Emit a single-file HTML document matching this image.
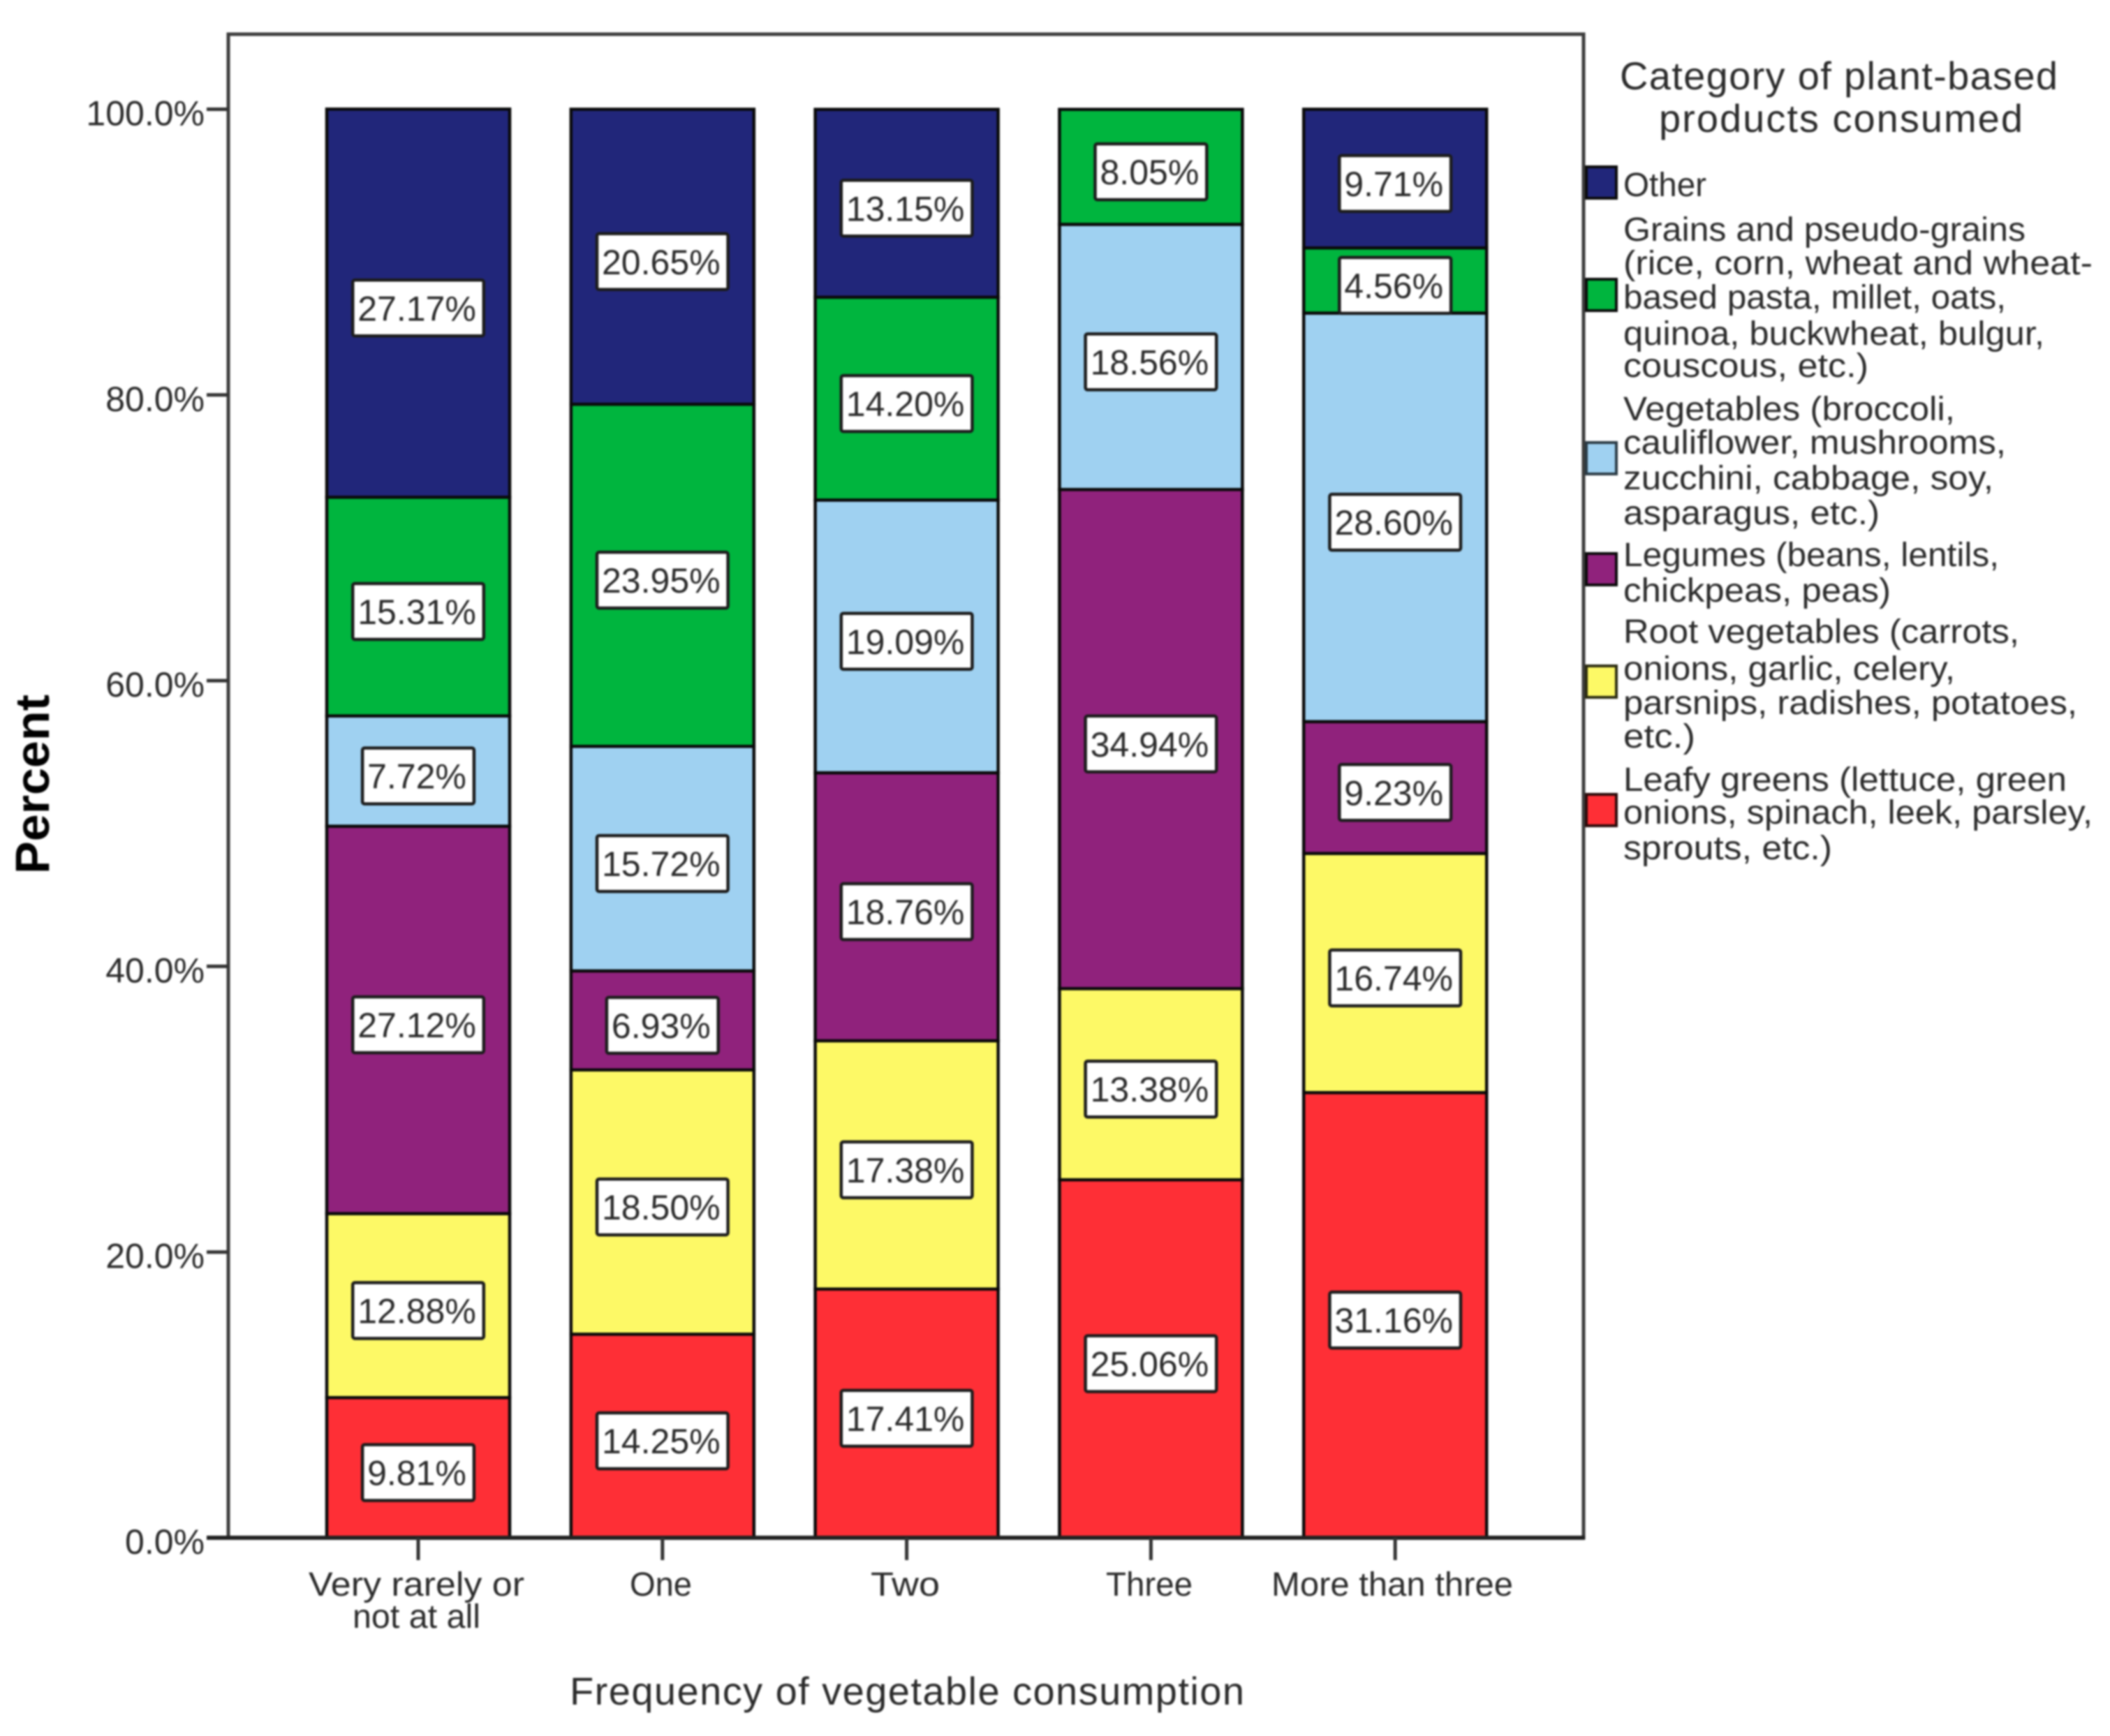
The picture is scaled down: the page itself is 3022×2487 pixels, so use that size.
<!DOCTYPE html>
<html lang="en">
<head>
<meta charset="utf-8">
<title>Category of plant-based products consumed by frequency of vegetable consumption</title>
<style>
html,body{margin:0;padding:0;background:#fff;}
#chart{display:block;width:3022px;height:2487px;filter:blur(1.3px);}
text{font-family:"Liberation Sans",Arial,sans-serif;fill:#2b2b2b;}
.leg{font-size:48px;}
.cat{font-size:48px;}
</style>
</head>
<body>
<svg id="chart" xmlns="http://www.w3.org/2000/svg" width="3022" height="2487" viewBox="0 0 3022 2487">
  <rect x="0" y="0" width="3022" height="2487" fill="#ffffff"/>
  <rect x="327" y="49" width="1941" height="2154" fill="#ffffff" stroke="#3d3d3d" stroke-width="5"/>
  <g id="y-axis"></g>
  <g id="bars"></g>
  <g id="x-axis"></g>

  <g>
    <text class="cat" x="442" y="2286" textLength="309" lengthAdjust="spacingAndGlyphs">Very rarely or</text>
    <text class="cat" x="505" y="2332" textLength="183" lengthAdjust="spacingAndGlyphs">not at all</text>
    <text class="cat" x="902" y="2286" textLength="89" lengthAdjust="spacingAndGlyphs">One</text>
    <text class="cat" x="1247" y="2286" textLength="99" lengthAdjust="spacingAndGlyphs">Two</text>
    <text class="cat" x="1584" y="2286" textLength="124" lengthAdjust="spacingAndGlyphs">Three</text>
    <text class="cat" x="1821" y="2286" textLength="346" lengthAdjust="spacingAndGlyphs">More than three</text>
  </g>

  <text transform="translate(70,1252) rotate(-90)" font-size="69" font-weight="700" style="fill:#000" textLength="257" lengthAdjust="spacingAndGlyphs">Percent</text>
  <text x="816" y="2442" font-size="56" textLength="966" lengthAdjust="spacing">Frequency of vegetable consumption</text>

  <g>
    <text x="2320" y="128" font-size="56" textLength="627" lengthAdjust="spacing">Category of plant-based</text>
    <text x="2376" y="189" font-size="56" textLength="521" lengthAdjust="spacing">products consumed</text>

    <rect x="2272" y="239" width="43" height="45" fill="#21267a" stroke="#0a0a0a" stroke-width="4"/>
    <text class="leg" x="2325" y="281" textLength="119" lengthAdjust="spacingAndGlyphs">Other</text>

    <rect x="2272" y="400" width="43" height="45" fill="#00b53e" stroke="#0a0a0a" stroke-width="4"/>
    <g>
      <text class="leg" x="2325" y="345" textLength="576" lengthAdjust="spacingAndGlyphs">Grains and pseudo-grains</text>
      <text class="leg" x="2325" y="393" textLength="672" lengthAdjust="spacingAndGlyphs">(rice, corn, wheat and wheat-</text>
      <text class="leg" x="2325" y="442" textLength="548" lengthAdjust="spacingAndGlyphs">based pasta, millet, oats,</text>
      <text class="leg" x="2325" y="494" textLength="603" lengthAdjust="spacingAndGlyphs">quinoa, buckwheat, bulgur,</text>
      <text class="leg" x="2325" y="540" textLength="351" lengthAdjust="spacingAndGlyphs">couscous, etc.)</text>
    </g>

    <rect x="2272" y="634" width="43" height="45" fill="#9fd1f1" stroke="#2a3a44" stroke-width="4"/>
    <g>
      <text class="leg" x="2325" y="602" textLength="475" lengthAdjust="spacingAndGlyphs">Vegetables (broccoli,</text>
      <text class="leg" x="2325" y="650" textLength="548" lengthAdjust="spacingAndGlyphs">cauliflower, mushrooms,</text>
      <text class="leg" x="2325" y="701" textLength="530" lengthAdjust="spacingAndGlyphs">zucchini, cabbage, soy,</text>
      <text class="leg" x="2325" y="751" textLength="367" lengthAdjust="spacingAndGlyphs">asparagus, etc.)</text>
    </g>

    <rect x="2272" y="793" width="43" height="45" fill="#90227c" stroke="#0a0a0a" stroke-width="4"/>
    <g>
      <text class="leg" x="2325" y="811" textLength="538" lengthAdjust="spacingAndGlyphs">Legumes (beans, lentils,</text>
      <text class="leg" x="2325" y="862" textLength="383" lengthAdjust="spacingAndGlyphs">chickpeas, peas)</text>
    </g>

    <rect x="2272" y="954" width="43" height="45" fill="#fdf966" stroke="#2a2a10" stroke-width="4"/>
    <g>
      <text class="leg" x="2325" y="921" textLength="567" lengthAdjust="spacingAndGlyphs">Root vegetables (carrots,</text>
      <text class="leg" x="2325" y="974" textLength="475" lengthAdjust="spacingAndGlyphs">onions, garlic, celery,</text>
      <text class="leg" x="2325" y="1023" textLength="650" lengthAdjust="spacingAndGlyphs">parsnips, radishes, potatoes,</text>
      <text class="leg" x="2325" y="1071" textLength="103" lengthAdjust="spacingAndGlyphs">etc.)</text>
    </g>

    <rect x="2272" y="1138" width="43" height="45" fill="#fe2f36" stroke="#2a0a0a" stroke-width="4"/>
    <g>
      <text class="leg" x="2325" y="1133" textLength="635" lengthAdjust="spacingAndGlyphs">Leafy greens (lettuce, green</text>
      <text class="leg" x="2325" y="1180" textLength="672" lengthAdjust="spacingAndGlyphs">onions, spinach, leek, parsley,</text>
      <text class="leg" x="2325" y="1231" textLength="299" lengthAdjust="spacingAndGlyphs">sprouts, etc.)</text>
    </g>
  </g>
</svg>
<script>
const categories = ["Very rarely or not at all", "One", "Two", "Three", "More than three"];
const yTicks = [0, 20, 40, 60, 80, 100];
const leafyGreens = [9.81, 14.25, 17.41, 25.06, 31.16];
const rootVegetables = [12.88, 18.50, 17.38, 13.38, 16.74];
const legumes = [27.12, 6.93, 18.76, 34.94, 9.23];
const vegetables = [7.72, 15.72, 19.09, 18.56, 28.60];
const grains = [15.31, 23.95, 14.20, 8.05, 4.56];
const other = [27.17, 20.65, 13.15, 0, 9.71];

const NS = "http://www.w3.org/2000/svg";
const yScale = v => 2203 - v * 20.465;
const xCenter = i => 599 + i * 349.8;
const BAR_W = 262;

function mk(parent, tag, attrs, text) {
  const el = document.createElementNS(NS, tag);
  for (const k in attrs) el.setAttribute(k, attrs[k]);
  if (text !== undefined) el.textContent = text;
  parent.appendChild(el);
  return el;
}

const yAxis = document.getElementById("y-axis");
yTicks.forEach(function (t) {
  const line = mk(yAxis, "line", { x1: 296, x2: 327, y1: yScale(t), y2: yScale(t), stroke: "#333", "stroke-width": 5 });
  
  
  const lab = mk(yAxis, "text", { x: 293, y: yScale(t) + 23, "font-size": 50, "text-anchor": "end" }, t.toFixed(1) + "%");
  
  
});

const seriesList = [
  { key: "leafy-greens", values: leafyGreens, fill: "#fe2f36" },
  { key: "root-vegetables", values: rootVegetables, fill: "#fdf966" },
  { key: "legumes", values: legumes, fill: "#90227c" },
  { key: "vegetables", values: vegetables, fill: "#9fd1f1" },
  { key: "grains", values: grains, fill: "#00b53e" },
  { key: "other", values: other, fill: "#21267a" }
];

const barsG = document.getElementById("bars");
const labelsLater = [];
categories.forEach(function (cat, i) {
  let cum = 0;
  seriesList.forEach(function (s) {
    const v = s.values[i];
    if (v <= 0) return;
    const top = yScale(cum + v), bottom = yScale(cum);
    const r = mk(barsG, "rect", {
      x: xCenter(i) - BAR_W / 2, y: top, width: BAR_W, height: bottom - top,
      fill: s.fill, stroke: "#0a0a0a", "stroke-width": 4.5
    });
    
    
    labelsLater.push({ cx: xCenter(i), cy: (top + bottom) / 2 + 7, text: v.toFixed(2) + "%" });
    cum += v;
  });
});

labelsLater.forEach(function (d) {
  const box = mk(barsG, "rect", {
    y: d.cy - 40, height: 80, rx: 3, fill: "#ffffff", stroke: "#1c1c1c", "stroke-width": 4.5
  });
  
  
  const txt = mk(barsG, "text", { x: d.cx - 2, y: d.cy + 18, "font-size": 50, "text-anchor": "middle" }, d.text);
  
  
  const w = txt.getComputedTextLength() + 18;
  box.setAttribute("x", d.cx - w / 2);
  box.setAttribute("width", w);
});

const xAxis = document.getElementById("x-axis");
const baseline = mk(xAxis, "line", { x1: 296, x2: 2270, y1: yScale(0), y2: yScale(0), stroke: "#222", "stroke-width": 6 });


categories.forEach(function (cat, i) {
  const tick = mk(xAxis, "line", { x1: xCenter(i), x2: xCenter(i), y1: yScale(0), y2: yScale(0) + 32, stroke: "#333", "stroke-width": 5 });
  
  
});
</script>
</body>
</html>
